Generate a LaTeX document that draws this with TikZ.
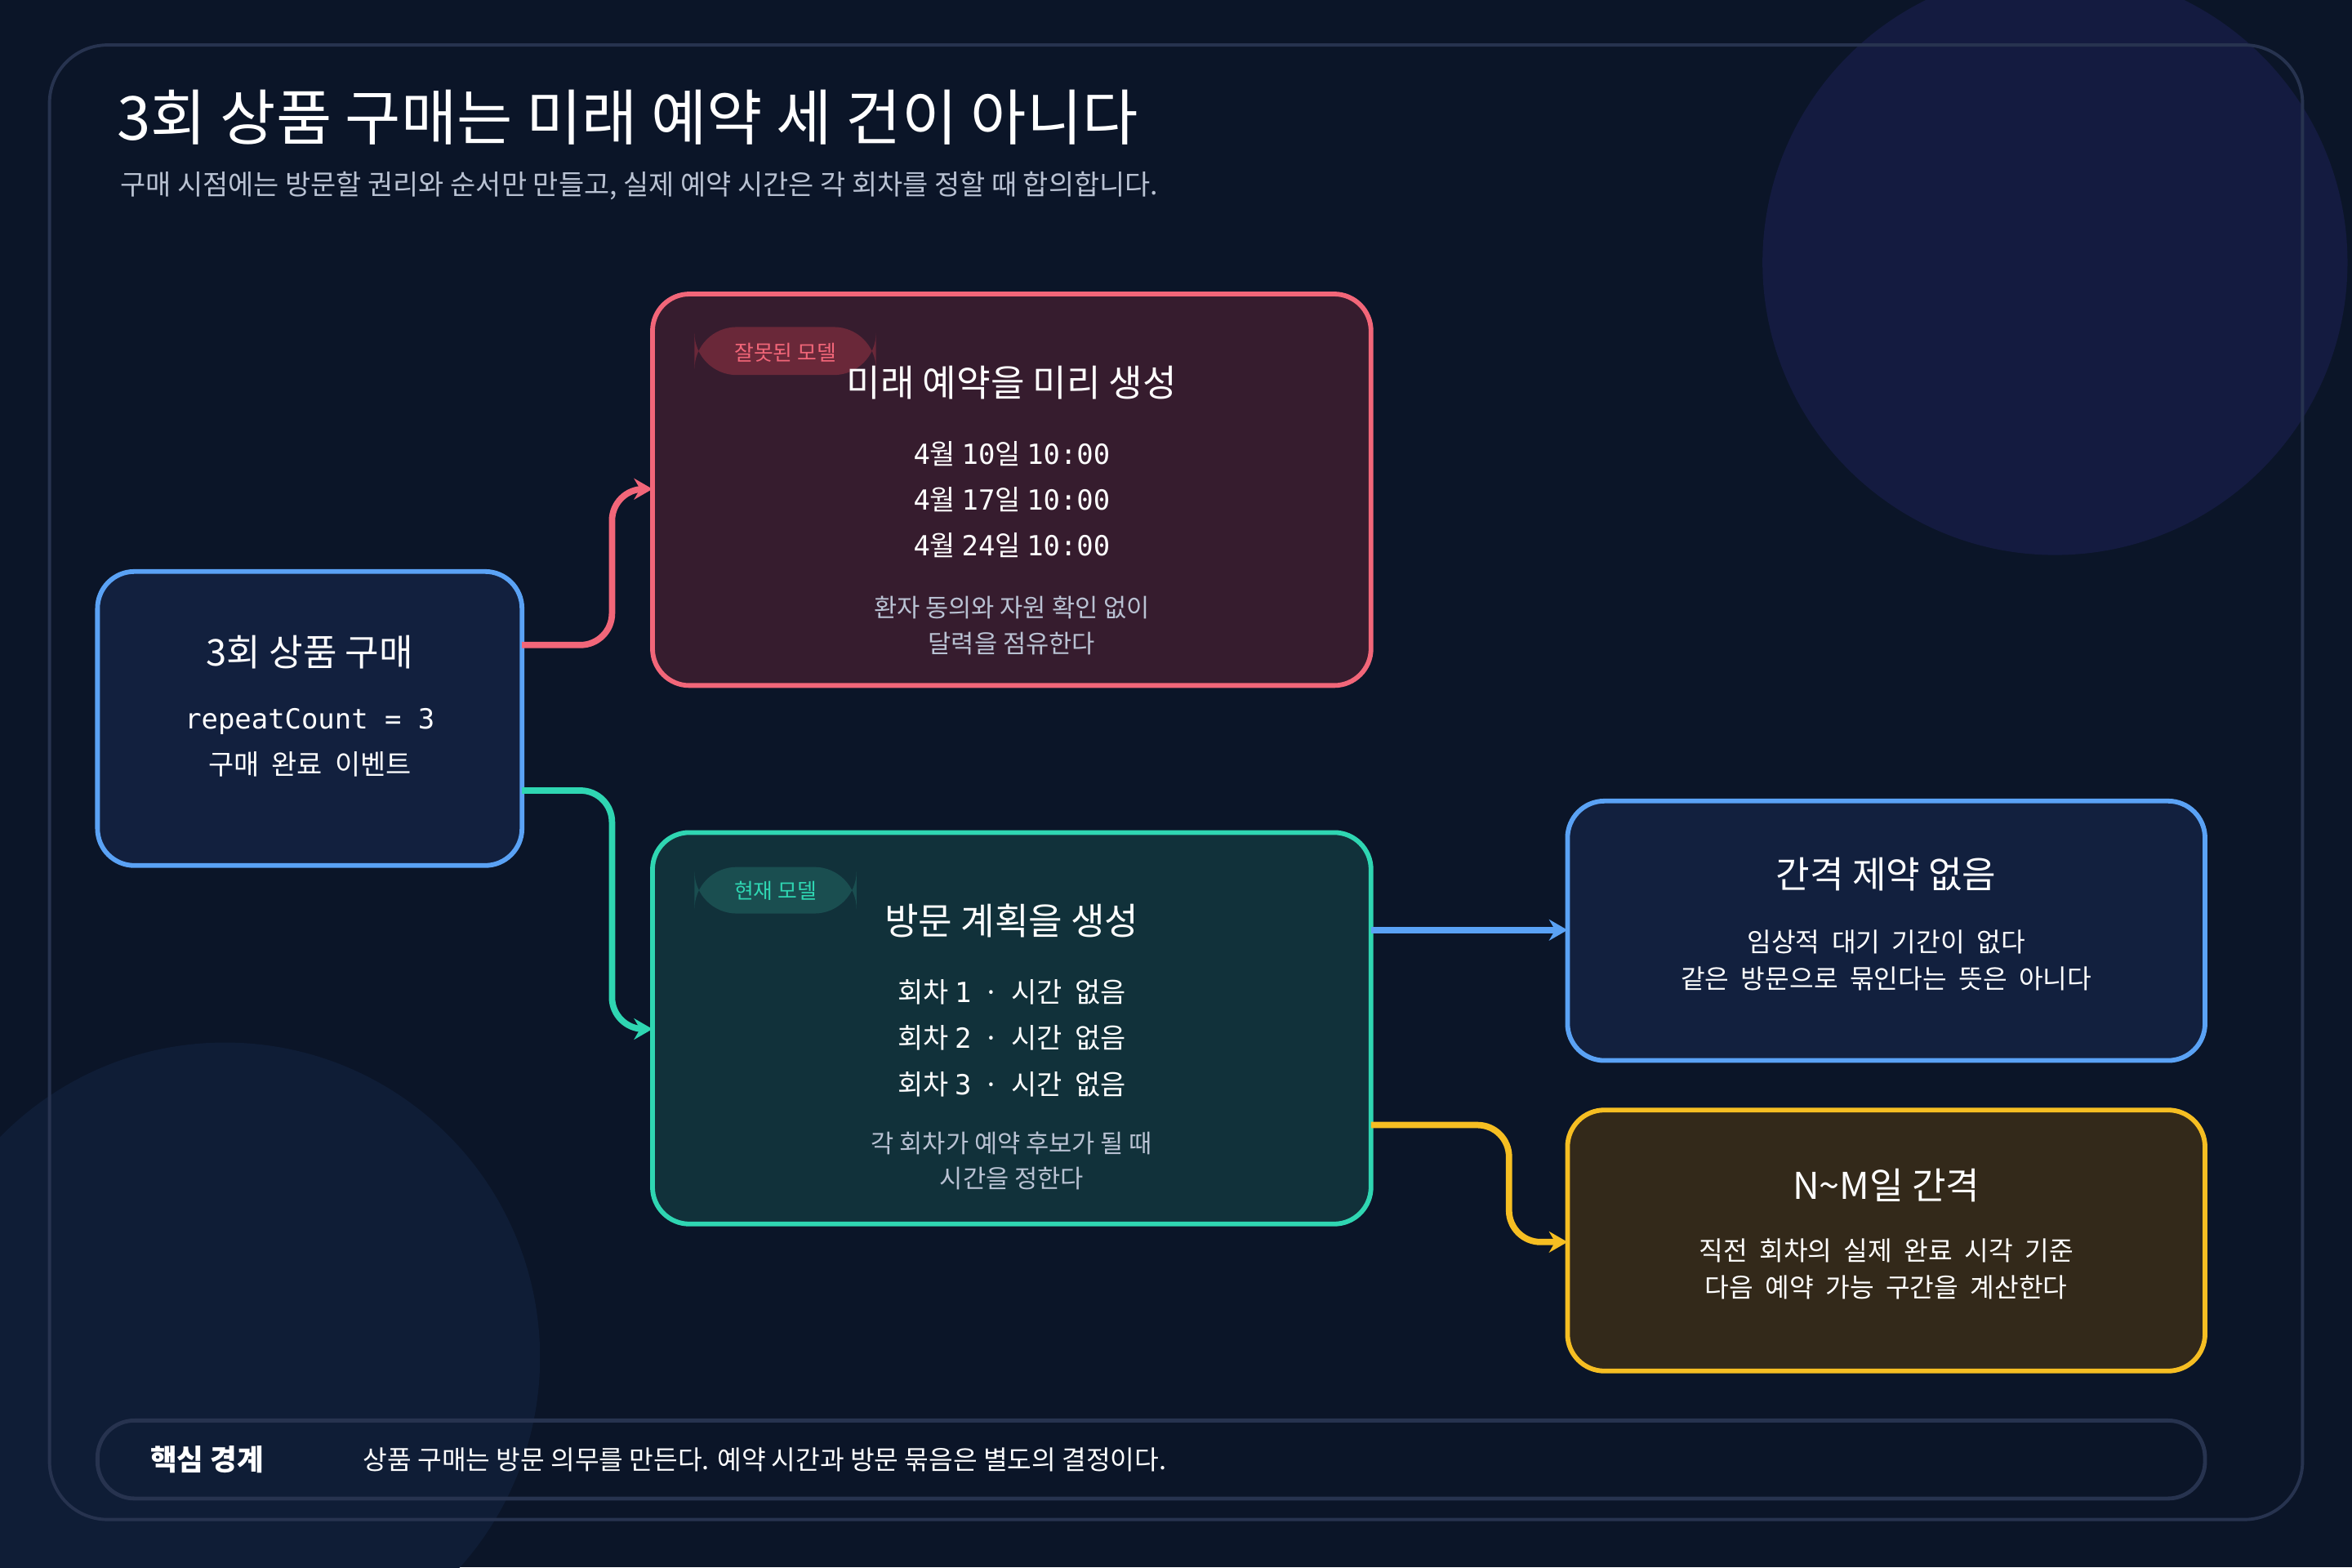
\documentclass[tikz,border=0pt]{standalone}
\usepackage{fontspec}
\setmainfont{Noto Sans CJK KR}
\setmonofont{DejaVu Sans Mono}
\usetikzlibrary{positioning,arrows.meta}
\definecolor{bgnavy}{HTML}{0B1528}
\definecolor{blobpurple}{HTML}{141B40}
\definecolor{blobblue}{HTML}{0F1D36}
\definecolor{framegray}{HTML}{27334F}
\definecolor{myblue}{HTML}{5AA2F5}
\definecolor{myred}{HTML}{F26679}
\definecolor{mygreen}{HTML}{2FD6B2}
\definecolor{myyellow}{HTML}{F6BE22}
\definecolor{fillblue}{HTML}{12203E}
\definecolor{fillred}{HTML}{361C2E}
\definecolor{fillgreen}{HTML}{11313A}
\definecolor{fillyellow}{HTML}{33291A}
\definecolor{softgray}{HTML}{B9C2D3}
\definecolor{tagred}{HTML}{6A2839}
\definecolor{taggreen}{HTML}{1A4E50}

\tikzset{
  card/.style={draw=#1, line width=1.8pt, rounded corners=14pt},
  head/.style={font=\fontsize{14}{16}\selectfont, text=white},
  body/.style={font=\fontsize{10.5}{17.5}\selectfont, text=white, align=center},
  note/.style={font=\fontsize{9.5}{13.5}\selectfont, text=softgray, align=center},
  tag/.style={font=\fontsize{8}{9}\selectfont, text=#1},
  link/.style={draw=#1, line width=2.4pt, rounded corners=12pt, -{Stealth[length=7pt,width=8pt]}}
}

\begin{document}
\begin{tikzpicture}[x=0.02cm, y=-0.02cm]
  % background
  \fill[bgnavy] (0,0) rectangle (1568,1045);
  \useasboundingbox (0,0) rectangle (1568,1045);
  \begin{scope}
    \clip (0,0) rectangle (1568,1045);
    \fill[blobpurple] (1370,175) circle (195);
    \fill[blobblue] (150,905) circle (210);
  \end{scope}
  \draw[framegray, line width=1.2pt, rounded corners=22pt] (33,30) rectangle (1535,1013);

  % title
  \node[anchor=west, text=white, font=\fontsize{23}{26}\selectfont] (title) at (72,78) {3회 상품 구매는 미래 예약 세 건이 아니다};
  \node[anchor=west, text=softgray, font=\fontsize{10.5}{12}\selectfont] (subtitle) at (74,124) {구매 시점에는 방문할 권리와 순서만 만들고, 실제 예약 시간은 각 회차를 정할 때 합의합니다.};

  % cards
  \draw[card=myblue, fill=fillblue] (65,381) rectangle (348,577);
  \node[head] (buy) at (206.5,435) {3회 상품 구매};
  \node[body] (buytxt) at (206.5,495) {\texttt{repeatCount = 3}\\구매 \ 완료 \ 이벤트};

  \draw[card=myred, fill=fillred] (435,196) rectangle (914,457);
  \fill[tagred, rounded corners=16pt] (463,218) rectangle (584,250);
  \node[tag=myred] (wrongtag) at (523.5,235) {잘못된 모델};
  \node[head] (wrong) at (674.5,255) {미래 예약을 미리 생성};
  \node[body] (wrongtxt) at (674.5,333) {\texttt{4}월 \texttt{10}일 \texttt{10:00}\\\texttt{4}월 \texttt{17}일 \texttt{10:00}\\\texttt{4}월 \texttt{24}일 \texttt{10:00}};
  \node[note] (wrongnote) at (674.5,417) {환자 동의와 자원 확인 없이\\달력을 점유한다};

  \draw[card=mygreen, fill=fillgreen] (435,555) rectangle (914,816);
  \fill[taggreen, rounded corners=16pt] (463,578) rectangle (571,609);
  \node[tag=mygreen] (nowtag) at (517,594) {현재 모델};
  \node[head] (now) at (674.5,614) {방문 계획을 생성};
  \node[body] (nowtxt) at (674.5,692) {회차 \texttt{1} \ · \ 시간 \ 없음\\회차 \texttt{2} \ · \ 시간 \ 없음\\회차 \texttt{3} \ · \ 시간 \ 없음};
  \node[note] (nownote) at (674.5,774) {각 회차가 예약 후보가 될 때\\시간을 정한다};

  \draw[card=myblue, fill=fillblue] (1045,534) rectangle (1470,707);
  \node[head] (free) at (1257.5,583) {간격 제약 없음};
  \node[body, font=\fontsize{10}{14}\selectfont] (freetxt) at (1257.5,640) {임상적 \ 대기 \ 기간이 \ 없다\\같은 \ 방문으로 \ 묶인다는 \ 뜻은 \ 아니다};

  \draw[card=myyellow, fill=fillyellow] (1045,740) rectangle (1470,914);
  \node[head] (gap) at (1257.5,790) {N\textasciitilde M일 간격};
  \node[body, font=\fontsize{10}{14}\selectfont] (gaptxt) at (1257.5,846) {직전 \ 회차의 \ 실제 \ 완료 \ 시각 \ 기준\\다음 \ 예약 \ 가능 \ 구간을 \ 계산한다};

  % connectors
  \coordinate (a1) at (348,430); \coordinate (a2) at (435,326);
  \coordinate (b1) at (348,527); \coordinate (b2) at (435,686);
  \coordinate (c1) at (914,620); \coordinate (c2) at (1045,620);
  \coordinate (d1) at (914,750); \coordinate (d2) at (1045,828);
  \draw[link=myred] (a1) -| (408,326) -- (a2);
  \draw[link=mygreen] (b1) -| (408,686) -- (b2);
  \draw[link=myblue] (c1) -- (c2);
  \draw[link=myyellow] (d1) -| (1006,828) -- (d2);

  % bottom bar
  \draw[framegray, line width=1.5pt, rounded corners=14pt] (65,947) rectangle (1470,999);
  \node[anchor=west, text=white, font=\fontsize{11}{12}\selectfont\bfseries] (keyhead) at (94,973) {핵심 경계};
  \node[anchor=west, text=white, font=\fontsize{10}{12}\selectfont] (keytxt) at (236,973) {상품 구매는 방문 의무를 만든다. 예약 시간과 방문 묶음은 별도의 결정이다.};
\end{tikzpicture}
\end{document}
